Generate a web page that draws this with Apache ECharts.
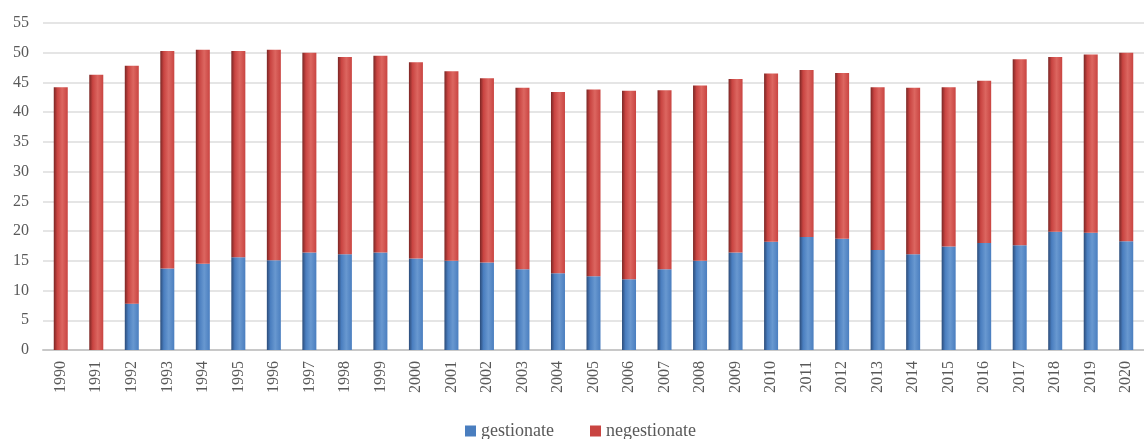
<!DOCTYPE html>
<html>
<head>
<meta charset="utf-8">
<script src="https://cdn.jsdelivr.net/npm/echarts@6/dist/echarts.min.js"></script>
<style>html,body{margin:0;padding:0;background:#fff;}#c{width:1144px;height:439px;}</style>
</head>
<body>
<div id="c"></div>
<script>
const years = ['1990','1991','1992','1993','1994','1995','1996','1997','1998','1999','2000','2001','2002','2003','2004','2005','2006','2007','2008','2009','2010','2011','2012','2013','2014','2015','2016','2017','2018','2019','2020'];
const totals = [44.2,46.3,47.8,50.3,50.5,50.3,50.5,50.0,49.3,49.5,48.4,46.9,45.7,44.1,43.4,43.8,43.6,43.7,44.5,45.6,46.5,47.1,46.6,44.2,44.1,44.2,45.3,48.9,49.3,49.7,50.0];
const gestionate = [0,0,7.8,13.7,14.5,15.6,15.1,16.4,16.1,16.4,15.4,15.0,14.7,13.6,12.9,12.4,11.9,13.6,15.0,16.4,18.2,19.0,18.7,16.8,16.1,17.4,18.0,17.6,19.9,19.7,18.3];
const negestionate = totals.map((t, i) => +(t - gestionate[i]).toFixed(1));
const yTicks = [0,5,10,15,20,25,30,35,40,45,50,55];

const serif = '"Liberation Serif", "DejaVu Serif", serif';
function grad(dark, mid, light) {
  return new echarts.graphic.LinearGradient(0, 0, 1, 0, [
    {offset: 0, color: dark},
    {offset: 0.25, color: mid},
    {offset: 0.6, color: light},
    {offset: 1, color: mid}
  ]);
}
const chart = echarts.init(document.getElementById('c'));
chart.setOption({
  animation: false,
  grid: {left: 43, right: -9, top: 23, bottom: 89},
  legend: {
    top: 417, left: 460,
    itemWidth: 11, itemHeight: 11, itemGap: 36, itemTextGap: 10,
    icon: 'rect',
    textStyle: {fontFamily: serif, fontSize: 18, color: '#595959'},
    data: [
      {name: 'gestionate', itemStyle: {color: '#4a7ebf'}},
      {name: 'negestionate', itemStyle: {color: '#c94441'}}
    ]
  },
  xAxis: {
    type: 'category', data: years,
    axisLine: {lineStyle: {color: '#c8c8c8', width: 2}},
    axisTick: {show: false},
    axisLabel: {rotate: 90, fontFamily: serif, fontSize: 16, color: '#595959', margin: 11, interval: 0}
  },
  yAxis: {
    type: 'value', min: 0, max: 55, interval: 5,
    axisLine: {show: false}, axisTick: {show: false},
    axisLabel: {fontFamily: serif, fontSize: 16, color: '#595959', margin: 14,
      formatter: v => yTicks.includes(v) ? String(v) : ''},
    splitLine: {lineStyle: {color: '#dcdcdc', width: 1.5}}
  },
  series: [
    {name: 'gestionate', type: 'bar', stack: 's', barWidth: 14, data: gestionate,
     itemStyle: {color: grad('#2b4b78', '#4a7ebf', '#6898d0')}},
    {name: 'negestionate', type: 'bar', stack: 's', barWidth: 14, data: negestionate,
     itemStyle: {color: grad('#7a2624', '#c94441', '#dc6660')}}
  ]
});
</script>
</body>
</html>
